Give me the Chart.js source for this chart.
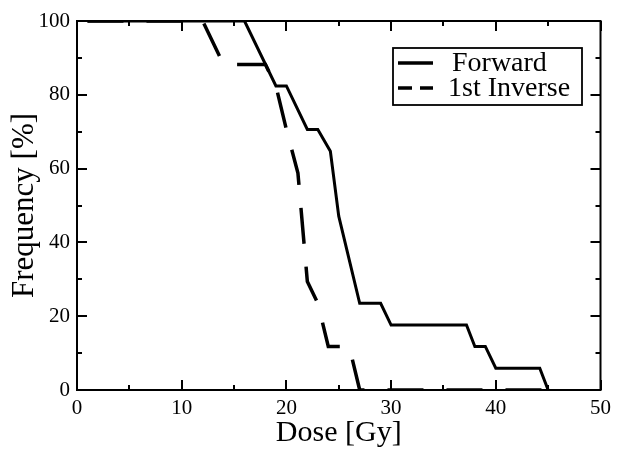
<!DOCTYPE html>
<html>
<head>
<meta charset="utf-8">
<script src="https://cdn.jsdelivr.net/npm/chart.js@4.4.1/dist/chart.umd.min.js"></script>
<style>
  html, body { margin: 0; padding: 0; background: #fff; }
  #wrap { width: 617px; height: 454px; position: relative; }
</style>
</head>
<body>
<div id="wrap"><canvas id="c" width="617" height="454"></canvas></div>
<script>
// ---- data ----
const forwardDose = [1, 16, 19, 20, 22, 23, 24.2, 25, 27, 29, 30, 37.2, 38, 39, 40, 44.2, 45];
const forwardFreq = [100, 100, 82.4, 82.4, 70.6, 70.6, 64.7, 47.1, 23.5, 23.5, 17.6, 17.6, 11.8, 11.8, 5.9, 5.9, 0];
const inverseDose = [1, 12, 14, 18, 19, 20, 21.1, 22, 23, 24, 26, 27, 45];
const inverseFreq = [100, 100, 88.2, 88.2, 82.4, 70.6, 58.8, 29.4, 23.5, 11.8, 11.8, 0, 0];
const seriesLabels = ['Forward', '1st Inverse'];
const xTickStep = 10, xMinorStep = 5;
const yTickStep = 20, yMinorStep = 10;

const toPts = (xs, ys) => xs.map((x, i) => ({ x: x, y: ys[i] }));

const FONT = 'Liberation Serif';

const frameAndTicks = {
  id: 'frameAndTicks',
  afterDatasetsDraw(chart) {
    const { ctx, chartArea: a, scales: { x, y } } = chart;
    ctx.save();
    ctx.strokeStyle = '#000';
    ctx.lineWidth = 2;
    ctx.beginPath();
    for (let v = x.min; v <= x.max + 1e-9; v += xMinorStep) {
      const px = Math.round(x.getPixelForValue(v));
      const len = (Math.abs(v % xTickStep) < 1e-9) ? 10 : 5;
      ctx.moveTo(px, a.bottom); ctx.lineTo(px, a.bottom - len);
      ctx.moveTo(px, a.top); ctx.lineTo(px, a.top + len);
    }
    for (let v = y.min; v <= y.max + 1e-9; v += yMinorStep) {
      const py = Math.round(y.getPixelForValue(v));
      const len = (Math.abs(v % yTickStep) < 1e-9) ? 10 : 5;
      ctx.moveTo(a.left, py); ctx.lineTo(a.left + len, py);
      ctx.moveTo(a.right, py); ctx.lineTo(a.right - len, py);
    }
    ctx.stroke();
    ctx.lineWidth = 2;
    ctx.strokeRect(a.left, a.top, a.right - a.left, a.bottom - a.top);

    // legend box
    const bx = 393, by = 48, bw = 189, bh = 57;
    ctx.lineWidth = 1.8;
    ctx.strokeRect(bx, by, bw, bh);
    chart.data.datasets.forEach((ds, i) => {
      const ly = by + 15 + i * 25;
      ctx.beginPath();
      ctx.lineWidth = 3.5;
      ctx.setLineDash(i === 0 ? [] : [14, 8]);
      ctx.moveTo(398, ly); ctx.lineTo(433, ly);
      ctx.stroke();
      ctx.setLineDash([]);
      ctx.fillStyle = '#000';
      ctx.font = '28px "' + FONT + '"';
      ctx.textBaseline = 'middle';
      ctx.textAlign = 'left';
      ctx.fillText(ds.label, i === 0 ? 452 : 448, ly + 1);
    });
    ctx.restore();
  }
};

new Chart(document.getElementById('c'), {
  type: 'line',
  data: {
    datasets: [
      {
        label: seriesLabels[0],
        data: toPts(forwardDose, forwardFreq),
        borderColor: '#000',
        borderWidth: 3,
        pointRadius: 0,
        tension: 0,
        fill: false,
        borderJoinStyle: 'miter'
      },
      {
        label: seriesLabels[1],
        data: toPts(inverseDose, inverseFreq),
        borderColor: '#000',
        borderWidth: 3.5,
        borderDash: [36, 23],
        pointRadius: 0,
        tension: 0,
        fill: false,
        borderJoinStyle: 'miter'
      }
    ]
  },
  options: {
    responsive: false,
    animation: false,
    events: [],
    layout: { padding: { top: 21, right: 15, left: 0, bottom: 0 } },
    plugins: { legend: { display: false }, tooltip: { enabled: false } },
    scales: {
      x: {
        type: 'linear',
        min: 0, max: 50,
        grid: { display: false, drawTicks: false },
        border: { display: false },
        ticks: { stepSize: xTickStep, color: '#000', padding: 6, font: { family: FONT, size: 21 } },
        title: { display: true, text: 'Dose [Gy]', color: '#000', font: { family: FONT, size: 30 }, padding: { top: 2, bottom: 3 } },
        afterFit(s) { s.height = 64; }
      },
      y: {
        type: 'linear',
        min: 0, max: 100,
        grid: { display: false, drawTicks: false },
        border: { display: false },
        ticks: { stepSize: yTickStep, color: '#000', padding: 7, font: { family: FONT, size: 21 } },
        title: { display: true, text: 'Frequency [%]', color: '#000', font: { family: FONT, size: 31 }, padding: { top: 6, bottom: 4 } },
        afterFit(s) { s.width = 77; }
      }
    }
  },
  plugins: [frameAndTicks]
});
</script>
</body>
</html>
